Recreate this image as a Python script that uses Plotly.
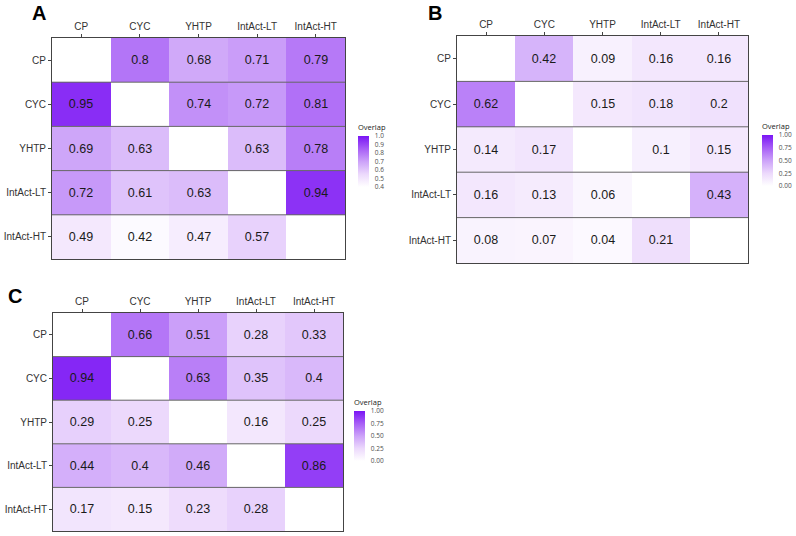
import plotly.graph_objects as go

labels = ["CP", "CYC", "YHTP", "IntAct-LT", "IntAct-HT"]

overlap_a = [
    [None, 0.8, 0.68, 0.71, 0.79],
    [0.95, None, 0.74, 0.72, 0.81],
    [0.69, 0.63, None, 0.63, 0.78],
    [0.72, 0.61, 0.63, None, 0.94],
    [0.49, 0.42, 0.47, 0.57, None],
]
overlap_b = [
    [None, 0.42, 0.09, 0.16, 0.16],
    [0.62, None, 0.15, 0.18, 0.2],
    [0.14, 0.17, None, 0.1, 0.15],
    [0.16, 0.13, 0.06, None, 0.43],
    [0.08, 0.07, 0.04, 0.21, None],
]
overlap_c = [
    [None, 0.66, 0.51, 0.28, 0.33],
    [0.94, None, 0.63, 0.35, 0.4],
    [0.29, 0.25, None, 0.16, 0.25],
    [0.44, 0.4, 0.46, None, 0.86],
    [0.17, 0.15, 0.23, 0.28, None],
]

ticks_a = [0.4, 0.5, 0.6, 0.7, 0.8, 0.9, 1.0]
ticks_bc = [0.0, 0.25, 0.5, 0.75, 1.0]

W, H = 796, 536
colorscale = [
    [0.0, "#FFFFFF"],
    [0.25, "#ECD9FC"],
    [0.5, "#CCA2F9"],
    [0.75, "#A75EF6"],
    [1.0, "#7A15F5"],
]

panels = [
    # data, zmin, zmax, ticks, fmt, xdom px, ydom px, cbar x px, cbar y px (top,bottom), letter pos
    (overlap_a, 0.4, 1.0, ticks_a, ".1f", (52, 345), (38, 259), 358, (121, 187), (30, 13), "A"),
    (overlap_b, 0.0, 1.0, ticks_bc, ".2f", (457, 748), (36, 263), 762, (120, 186), (426, 13), "B"),
    (overlap_c, 0.0, 1.0, ticks_bc, ".2f", (53, 343), (313, 531), 354, (396, 461), (6, 296), "C"),
]

fig = go.Figure()
for i, (z, zmin, zmax, tv, fmt, xd, yd, cbx, cby, lpos, letter) in enumerate(panels):
    n = i + 1
    xa = "x" if n == 1 else f"x{n}"
    ya = "y" if n == 1 else f"y{n}"
    fig.add_trace(go.Heatmap(
        z=z, x=list(range(len(labels))), y=list(range(len(labels))),
        zmin=zmin, zmax=zmax, colorscale=colorscale,
        texttemplate="%{z}", textfont=dict(size=12.5, color="#1a1a1a", family="Liberation Sans, Arial"),
        xaxis=xa, yaxis=ya, hoverongaps=False,
        colorbar=dict(
            title=dict(text="Overlap", side="top", font=dict(size=7.5, color="#222")),
            x=cbx / W, xanchor="left", xref="paper",
            y=1 - cby[0] / H, yanchor="top",
            len=cby[1] - cby[0], lenmode="pixels",
            thickness=11, thicknessmode="pixels",
            outlinewidth=0,
            tickvals=tv, tickformat=fmt,
            ticks="outside", ticklen=5, tickcolor="rgba(0,0,0,0)",
            tickfont=dict(size=6.5, color="#4d4d4d"),
            ypad=0, xpad=0,
        ),
    ))
    axkey_x = "xaxis" if n == 1 else f"xaxis{n}"
    axkey_y = "yaxis" if n == 1 else f"yaxis{n}"
    fig.layout[axkey_x] = dict(
        domain=[xd[0] / W, xd[1] / W], anchor=ya, side="top",
        tickvals=list(range(len(labels))), ticktext=labels,
        range=[-0.5, len(labels) - 0.5], showgrid=False, zeroline=False,
        showline=True, mirror=True, linecolor="#444", linewidth=1,
        ticks="outside", ticklen=3, tickcolor="#444",
        tickfont=dict(size=10, color="#333", family="Liberation Sans, Arial"),
    )
    fig.layout[axkey_y] = dict(
        domain=[1 - yd[1] / H, 1 - yd[0] / H], anchor=xa,
        tickvals=list(range(len(labels))), ticktext=labels,
        range=[len(labels) - 0.5, -0.5], showgrid=False, zeroline=False,
        showline=True, mirror=True, linecolor="#444", linewidth=1,
        ticks="outside", ticklen=3, tickcolor="#444",
        tickfont=dict(size=10, color="#333", family="Liberation Sans, Arial"),
    )
    for k in range(len(labels) - 1):
        fig.add_shape(type="line", xref=f"{xa} domain", yref=ya,
                      x0=0, x1=1, y0=k + 0.5, y1=k + 0.5,
                      line=dict(color="#666", width=1))
    fig.add_annotation(text=f"<b>{letter}</b>", xref="paper", yref="paper",
                       x=lpos[0] / W, y=1 - lpos[1] / H, xanchor="left", yanchor="middle",
                       showarrow=False, font=dict(size=20, color="black", family="Liberation Sans, Arial"))

fig.update_layout(
    width=W, height=H, margin=dict(l=0, r=0, t=0, b=0, autoexpand=False),
    paper_bgcolor="white", plot_bgcolor="white", showlegend=False,
)
fig.write_html("out.html", config={"displayModeBar": False},
               post_script="document.body.style.margin='0px';document.body.style.overflow='hidden';")
